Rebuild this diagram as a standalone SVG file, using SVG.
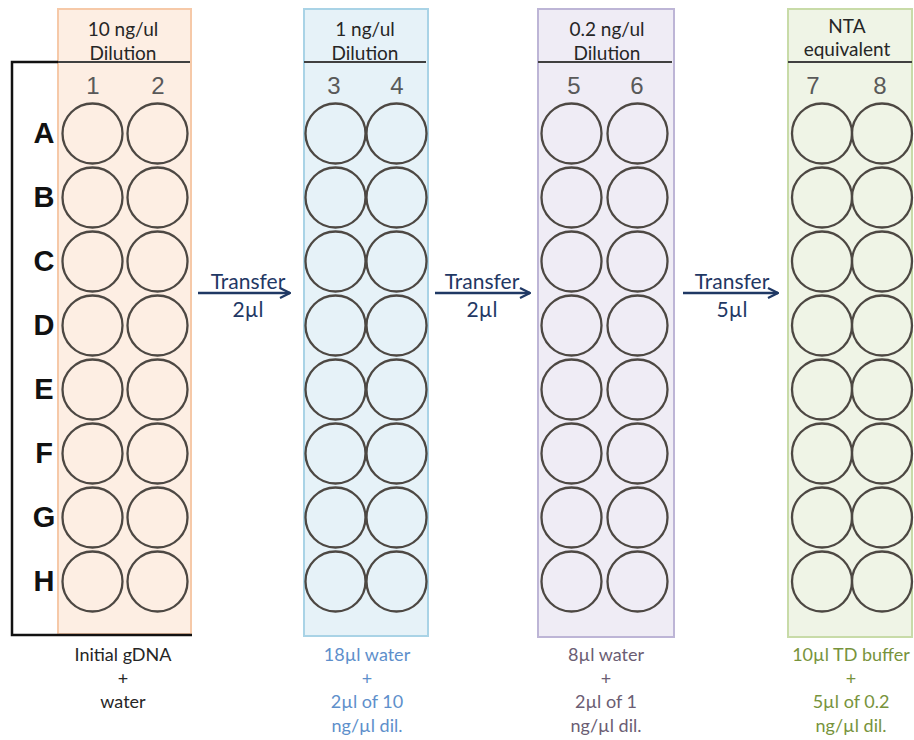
<svg xmlns="http://www.w3.org/2000/svg" width="914" height="740" viewBox="0 0 914 740">
<style>
.well{fill:none;stroke:#4d4843;stroke-width:2.3}
.hdr{font-family:Lato,"Open Sans",sans-serif;font-size:19px;fill:#262626;text-anchor:middle}
.num{font-family:"Liberation Sans",Arial,sans-serif;font-size:24px;fill:#595959;text-anchor:middle}
.row{font-family:"Liberation Sans",Arial,sans-serif;font-size:29px;font-weight:bold;fill:#111;text-anchor:middle}
.hline{stroke:#404040;stroke-width:2}
.tr{font-family:Lato,"Open Sans",sans-serif;font-size:21px;fill:#1f3864;text-anchor:middle}
.lbl{font-family:Lato,"Open Sans",sans-serif;font-size:18px;text-anchor:middle}
.arr{stroke:#1f3864;stroke-width:2.5;fill:none}
</style>
<defs>
<marker id="ah" viewBox="0 0 10 10" refX="9" refY="5" markerWidth="5" markerHeight="5" orient="auto" markerUnits="strokeWidth">
<path d="M1,1 L9,5 L1,9" fill="none" stroke="#1f3864" stroke-width="1.8"/>
</marker>
<g id="wells2">
<circle cx="0" cy="133.5" r="30"/><circle cx="0" cy="197.5" r="30"/><circle cx="0" cy="261.5" r="30"/><circle cx="0" cy="325.5" r="30"/>
<circle cx="0" cy="389.5" r="30"/><circle cx="0" cy="453.5" r="30"/><circle cx="0" cy="517.5" r="30"/><circle cx="0" cy="581.5" r="30"/>
</g>
</defs>
<rect width="914" height="740" fill="#fff"/>

<g id="col1">
<rect x="58" y="9" width="133" height="625" fill="#fdeee3" stroke="#f6c9a8" stroke-width="2"/>
<text class="hdr" x="123" y="36">10 ng/ul</text>
<text class="hdr" x="123" y="60">Dilution</text>
<line class="hline" x1="58" y1="62" x2="190" y2="62"/>
<text class="num" x="93" y="94">1</text>
<text class="num" x="158" y="94">2</text>
<g class="well"><use href="#wells2" x="92.5"/><use href="#wells2" x="157.5"/></g>
<text class="lbl" x="123" y="661" fill="#262626">Initial gDNA</text>
<text class="lbl" x="123" y="685" fill="#262626">+</text>
<text class="lbl" x="123" y="708" fill="#262626">water</text>
</g>

<g id="rows">
<path d="M58,62 H12 V635 H192" fill="none" stroke="#111" stroke-width="2.5"/>
<text class="row" x="44" y="143">A</text>
<text class="row" x="44" y="207">B</text>
<text class="row" x="44" y="271">C</text>
<text class="row" x="44" y="335">D</text>
<text class="row" x="44" y="399">E</text>
<text class="row" x="44" y="463">F</text>
<text class="row" x="44" y="527">G</text>
<text class="row" x="44" y="591">H</text>
</g>

<g id="col2">
<rect x="304" y="9" width="124" height="627" fill="#e6f2f8" stroke="#a9d3e6" stroke-width="2"/>
<text class="hdr" x="365" y="36">1 ng/ul</text>
<text class="hdr" x="365" y="60">Dilution</text>
<line class="hline" x1="304" y1="62" x2="426" y2="62"/>
<text class="num" x="334" y="94">3</text>
<text class="num" x="397" y="94">4</text>
<g class="well"><use href="#wells2" x="335.5"/><use href="#wells2" x="396.5"/></g>
<text class="lbl" x="367" y="661" fill="#5e8fcb">18µl water</text>
<text class="lbl" x="367" y="685" fill="#5e8fcb">+</text>
<text class="lbl" x="367" y="708" fill="#5e8fcb">2µl of 10</text>
<text class="lbl" x="367" y="732" fill="#5e8fcb">ng/µl dil.</text>
</g>

<g id="col3">
<rect x="538" y="9" width="136" height="628" fill="#efecf5" stroke="#bdb5d6" stroke-width="2"/>
<text class="hdr" x="607" y="36">0.2 ng/ul</text>
<text class="hdr" x="607" y="60">Dilution</text>
<line class="hline" x1="538" y1="62" x2="672" y2="62"/>
<text class="num" x="574" y="94">5</text>
<text class="num" x="637" y="94">6</text>
<g class="well"><use href="#wells2" x="571.5"/><use href="#wells2" x="637.5"/></g>
<text class="lbl" x="606" y="661" fill="#6b5d73">8µl water</text>
<text class="lbl" x="606" y="685" fill="#6b5d73">+</text>
<text class="lbl" x="606" y="708" fill="#6b5d73">2µl of 1</text>
<text class="lbl" x="606" y="732" fill="#6b5d73">ng/µl dil.</text>
</g>

<g id="col4">
<rect x="788" y="9" width="124" height="628" fill="#eff4e6" stroke="#c8dba8" stroke-width="2"/>
<text class="hdr" x="847" y="33">NTA</text>
<text class="hdr" x="847" y="56">equivalent</text>
<line class="hline" x1="788" y1="62" x2="912" y2="62"/>
<text class="num" x="813" y="94">7</text>
<text class="num" x="880" y="94">8</text>
<g class="well"><use href="#wells2" x="822"/><use href="#wells2" x="882"/></g>
<text class="lbl" x="851" y="661" fill="#77933c">10µl TD buffer</text>
<text class="lbl" x="851" y="685" fill="#77933c">+</text>
<text class="lbl" x="851" y="708" fill="#77933c">5µl of 0.2</text>
<text class="lbl" x="851" y="732" fill="#77933c">ng/µl dil.</text>
</g>

<g id="connectors">
<line class="arr" x1="198" y1="293" x2="290" y2="293" marker-end="url(#ah)"/>
<line class="arr" x1="435" y1="293" x2="530" y2="293" marker-end="url(#ah)"/>
<line class="arr" x1="683" y1="293" x2="778" y2="293" marker-end="url(#ah)"/>
<text class="tr" x="248" y="289">Transfer</text>
<text class="tr" x="248" y="317">2µl</text>
<text class="tr" x="482" y="289">Transfer</text>
<text class="tr" x="482" y="317">2µl</text>
<text class="tr" x="732" y="289">Transfer</text>
<text class="tr" x="732" y="317">5µl</text>
</g>
</svg>
